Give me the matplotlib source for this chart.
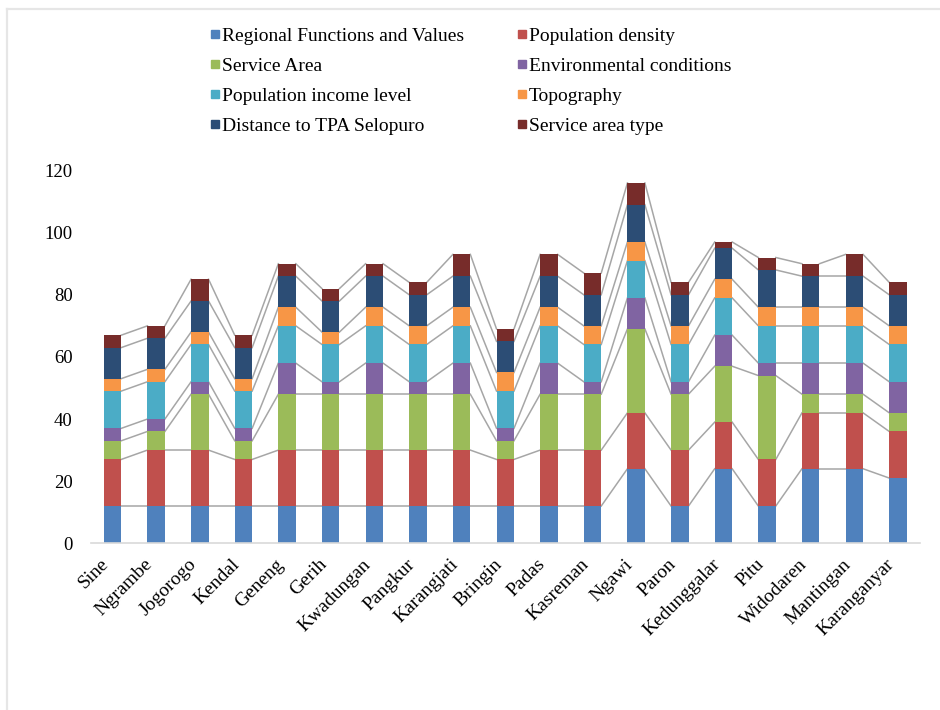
import matplotlib.pyplot as plt
import numpy as np
from matplotlib.lines import Line2D

plt.rcParams['font.family'] = ['Liberation Serif', 'DejaVu Serif']

villages = ['Sine', 'Ngrambe', 'Jogorogo', 'Kendal', 'Geneng', 'Gerih', 'Kwadungan',
            'Pangkur', 'Karangjati', 'Bringin', 'Padas', 'Kasreman', 'Ngawi', 'Paron',
            'Kedunggalar', 'Pitu', 'Widodaren', 'Mantingan', 'Karanganyar']

regional = [12, 12, 12, 12, 12, 12, 12, 12, 12, 12, 12, 12, 24, 12, 24, 12, 24, 24, 21]
density = [15, 18, 18, 15, 18, 18, 18, 18, 18, 15, 18, 18, 18, 18, 15, 15, 18, 18, 15]
service = [6, 6, 18, 6, 18, 18, 18, 18, 18, 6, 18, 18, 27, 18, 18, 27, 6, 6, 6]
environment = [4, 4, 4, 4, 10, 4, 10, 4, 10, 4, 10, 4, 10, 4, 10, 4, 10, 10, 10]
income = [12, 12, 12, 12, 12, 12, 12, 12, 12, 12, 12, 12, 12, 12, 12, 12, 12, 12, 12]
topography = [4, 4, 4, 4, 6, 4, 6, 6, 6, 6, 6, 6, 6, 6, 6, 6, 6, 6, 6]
distance = [10, 10, 10, 10, 10, 10, 10, 10, 10, 10, 10, 10, 12, 10, 10, 12, 10, 10, 10]
area_type = [4, 4, 7, 4, 4, 4, 4, 4, 7, 4, 7, 7, 7, 4, 2, 4, 4, 7, 4]

series = [regional, density, service, environment, income, topography, distance, area_type]
names = ['Regional Functions and Values', 'Population density', 'Service Area',
         'Environmental conditions', 'Population income level', 'Topography',
         'Distance to TPA Selopuro', 'Service area type']
colors = ['#4F81BD', '#C0504D', '#9BBB59', '#8064A2', '#4BACC6', '#F79646',
          '#2C4D75', '#772C2A']

fig = plt.figure(figsize=(9.4, 7.1), dpi=100)
ax = fig.add_axes([0.0965, 0.2348, 0.882, 0.525])

x = np.arange(len(villages))
w = 0.4
bottom = np.zeros(len(villages))
for vals, c in zip(series, colors):
    vals = np.array(vals, dtype=float)
    ax.bar(x, vals, w, bottom=bottom, color=c, zorder=2)
    bottom = bottom + vals
    # series lines between neighbouring bars
    for i in range(len(x) - 1):
        ax.plot([x[i] + w / 2, x[i + 1] - w / 2], [bottom[i], bottom[i + 1]],
                color='#A6A6A6', lw=1.1, zorder=1)

ax.set_xlim(-0.5, len(villages) - 0.5)
ax.set_ylim(0, 120)
ax.set_yticks(range(0, 121, 20))
ax.set_xticks(x)
ax.set_xticklabels(villages, rotation=45, ha='right', fontsize=14)
ax.tick_params(axis='y', length=0, pad=13, labelsize=13.5)
ax.tick_params(axis='x', length=0, pad=9)
for s in ['top', 'right', 'left']:
    ax.spines[s].set_visible(False)
ax.spines['bottom'].set_color('#D9D9D9')
ax.spines['bottom'].set_linewidth(1.2)

handles = [Line2D([], [], marker='s', ls='', markersize=6, color=c) for c in colors]
order = [0, 2, 4, 6, 1, 3, 5, 7]
fig.legend([handles[i] for i in order], [names[i] for i in order], ncol=2,
           loc='upper left', bbox_to_anchor=(0.2125, 0.975), frameon=False,
           fontsize=14, handlelength=0.6, handletextpad=0.05, columnspacing=2.68,
           labelspacing=0.63, borderpad=0)

# chart frame
fig.add_artist(Line2D([0.0075, 1.0], [0.987, 0.987], color='#E6E6E6', lw=1.6))
fig.add_artist(Line2D([0.0075, 0.0075], [0.0, 0.987], color='#E6E6E6', lw=1.6))

fig.savefig('out.png', dpi=100)
